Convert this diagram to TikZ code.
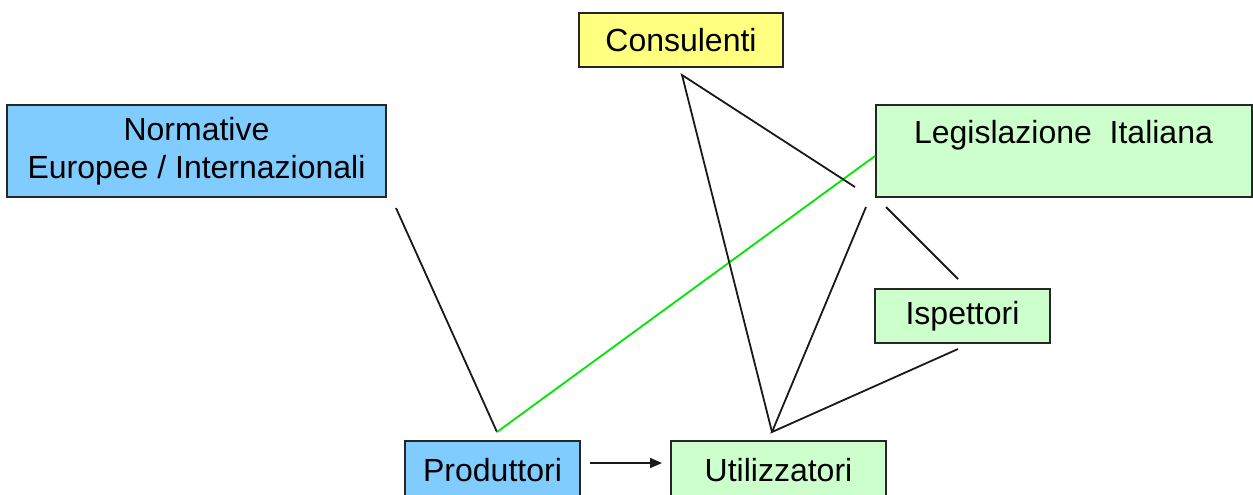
\documentclass[tikz,border=0pt]{standalone}
\usepackage{fontspec}
\setmainfont{Liberation Sans}
\usetikzlibrary{arrows.meta}
\definecolor{boxblue}{RGB}{128,204,255}
\definecolor{boxyellow}{RGB}{255,255,128}
\definecolor{boxgreen}{RGB}{204,255,204}
\definecolor{linegreen}{RGB}{0,230,0}

\begin{document}
\begin{tikzpicture}[x=0.5pt,y=-0.5pt]
        \tikzstyle{every node}=[font=\fontsize{16}{19}\selectfont]
        \tikzstyle{actor}=[draw=black!85, line width=1pt, inner sep=0pt, align=center]
        \tikzstyle{link}=[draw=black!90, line width=0.9pt]

        \clip (0,0) rectangle (1253,494);

        \node[actor, fill=boxblue, minimum width=189.5pt, minimum height=46pt] (normative) at (196.5,151) {Normative\\Europee / Internazionali};
        \node[actor, fill=boxyellow, minimum width=102pt, minimum height=27pt] (consulenti) at (681,40) {Consulenti};
        \node[actor, fill=boxgreen, minimum width=188pt, minimum height=46pt] (legislazione) at (1063.5,151) {Legislazione\ \ Italiana\\\mbox{}};
        \node[actor, fill=boxgreen, minimum width=87.5pt, minimum height=27pt] (ispettori) at (962.5,316) {Ispettori};
        \node[actor, fill=boxblue, minimum width=87.5pt, minimum height=29pt] (produttori) at (492.5,470) {Produttori};
        \node[actor, fill=boxgreen, minimum width=107.5pt, minimum height=29pt] (utilizzatori) at (778.5,470) {Utilizzatori};

        % free ends of the links
        \coordinate (norm-end) at (396,208);
        \coordinate (prod-top) at (497,432);
        \coordinate (leg-left) at (875,156);
        \coordinate (cons-apex) at (682,75);
        \coordinate (cons-end) at (855,187);
        \coordinate (util-apex) at (772,432);
        \coordinate (leg-low) at (866,207);
        \coordinate (leg-right) at (886,207);
        \coordinate (isp-top) at (958,279);
        \coordinate (isp-low) at (958,349);
        \coordinate (arr-start) at (590,463);
        \coordinate (arr-end) at (662,463);

        \draw[link] (norm-end) -- (prod-top);
        \draw[link, draw=linegreen] (prod-top) -- (leg-left);
        \draw[link] (cons-end) -- (cons-apex) -- (util-apex);
        \draw[link] (leg-low) -- (util-apex) -- (isp-low);
        \draw[link] (leg-right) -- (isp-top);
        \draw[link, -{Triangle[length=6pt,width=5pt]}] (arr-start) -- (arr-end);
\end{tikzpicture}
\end{document}
